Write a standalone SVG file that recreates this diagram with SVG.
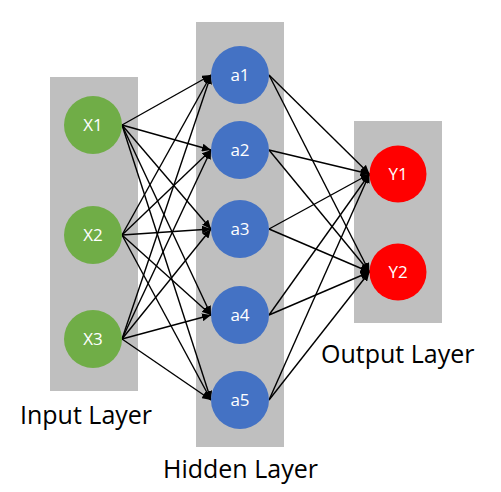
<svg xmlns="http://www.w3.org/2000/svg" width="501" height="492" viewBox="0 0 501 492">
<style>
.panel{fill:#BFBFBF}
.in{fill:#70AD47}
.hid{fill:#4472C4}
.out{fill:#FF0000}
.nl{font-family:"Open Sans","Liberation Sans",sans-serif;font-size:17px;fill:#FFFFFF;text-anchor:middle}
.ll{font-family:"Open Sans","Liberation Sans",sans-serif;font-size:25px;fill:#000000}
.c line{stroke:#000;stroke-width:1.4;marker-end:url(#ah)}
</style>
<defs>
<marker id="ah" markerUnits="userSpaceOnUse" markerWidth="9" markerHeight="8" refX="9" refY="4" orient="auto">
<path d="M0,0 L9,4 L0,8 z" fill="#000"/>
</marker>
</defs>
<rect class="panel" x="50" y="77" width="88" height="314"/>
<rect class="panel" x="196" y="22" width="88" height="425"/>
<rect class="panel" x="354" y="121" width="88" height="202"/>
<g class="c" id="connectors">
<line x1="122" y1="125" x2="211" y2="75"/>
<line x1="122" y1="125" x2="211" y2="150"/>
<line x1="122" y1="125" x2="211" y2="229"/>
<line x1="122" y1="125" x2="211" y2="315"/>
<line x1="122" y1="125" x2="211" y2="400"/>
<line x1="122" y1="235" x2="211" y2="75"/>
<line x1="122" y1="235" x2="211" y2="150"/>
<line x1="122" y1="235" x2="211" y2="229"/>
<line x1="122" y1="235" x2="211" y2="315"/>
<line x1="122" y1="235" x2="211" y2="400"/>
<line x1="122" y1="339" x2="211" y2="75"/>
<line x1="122" y1="339" x2="211" y2="150"/>
<line x1="122" y1="339" x2="211" y2="229"/>
<line x1="122" y1="339" x2="211" y2="315"/>
<line x1="122" y1="339" x2="211" y2="400"/>
<line x1="269" y1="75" x2="369.5" y2="174"/>
<line x1="269" y1="75" x2="369.5" y2="272"/>
<line x1="269" y1="150" x2="369.5" y2="174"/>
<line x1="269" y1="150" x2="369.5" y2="272"/>
<line x1="269" y1="229" x2="369.5" y2="174"/>
<line x1="269" y1="229" x2="369.5" y2="272"/>
<line x1="269" y1="315" x2="369.5" y2="174"/>
<line x1="269" y1="315" x2="369.5" y2="272"/>
<line x1="269" y1="400" x2="369.5" y2="174"/>
<line x1="269" y1="400" x2="369.5" y2="272"/>
</g>
<g id="X1"><circle class="in" cx="93" cy="125" r="29"/><text class="nl" x="93" y="131">X1</text></g>
<g id="X2"><circle class="in" cx="93" cy="235" r="29"/><text class="nl" x="93" y="241">X2</text></g>
<g id="X3"><circle class="in" cx="93" cy="339" r="29"/><text class="nl" x="93" y="345">X3</text></g>
<g id="a1"><circle class="hid" cx="240" cy="75" r="29"/><text class="nl" x="240" y="81">a1</text></g>
<g id="a2"><circle class="hid" cx="240" cy="150" r="29"/><text class="nl" x="240" y="156">a2</text></g>
<g id="a3"><circle class="hid" cx="240" cy="229" r="29"/><text class="nl" x="240" y="235">a3</text></g>
<g id="a4"><circle class="hid" cx="240" cy="315" r="29"/><text class="nl" x="240" y="321">a4</text></g>
<g id="a5"><circle class="hid" cx="240" cy="400" r="29"/><text class="nl" x="240" y="406">a5</text></g>
<g id="Y1"><circle class="out" cx="398" cy="174" r="28.5"/><text class="nl" x="398" y="180">Y1</text></g>
<g id="Y2"><circle class="out" cx="398" cy="272" r="28.5"/><text class="nl" x="398" y="278">Y2</text></g>
<g id="labels">
<text class="ll" x="20" y="424">Input Layer</text>
<text class="ll" x="163" y="478">Hidden Layer</text>
<text class="ll" x="321" y="363">Output Layer</text>
</g>
</svg>
